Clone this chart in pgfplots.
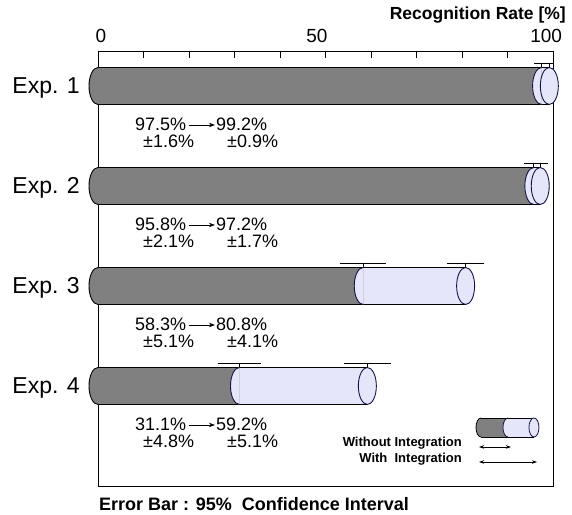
\documentclass[border=0pt]{standalone}
\usepackage{fontspec}
\setmainfont{Liberation Sans}
\usepackage{pgfplots}
\pgfplotsset{compat=1.18}
\usepackage{pgfplotstable}
\usetikzlibrary{arrows.meta}

\definecolor{cgray}{RGB}{128,128,128}
\definecolor{clav}{RGB}{230,230,250}
\definecolor{cnavy}{RGB}{20,20,70}

\pgfdeclareplotmark{cylfull}{%
  \pgfpathellipse{\pgfpointorigin}{\pgfqpoint{9pt}{0pt}}{\pgfqpoint{0pt}{18.5pt}}%
  \pgfusepathqfillstroke}
\pgfdeclareplotmark{cylleft}{%
  \pgfpathmoveto{\pgfqpoint{0pt}{18.5pt}}%
  \pgfpatharc{90}{270}{9pt and 18.5pt}%
  \pgfpathclose
  \pgfusepathqfill
  \pgfpathmoveto{\pgfqpoint{0pt}{18.5pt}}%
  \pgfpatharc{90}{270}{9pt and 18.5pt}%
  \pgfusepathqstroke}

\pgfplotstableread{
y   v1   e1  v2   e2  z tk
400 97.5 1.6 99.2 0.9 0 4.5
300 95.8 2.1 97.2 1.7 0 4.5
200 58.3 5.1 80.8 4.1 0 4.5
100 31.1 4.8 59.2 5.1 0 4.5
}\data

\newcommand{\vallab}[7]{% #1 line1 y, #2 arrow y, #3 line2 y, #4 v1, #5 v2, #6 e1, #7 e2
  \node[anchor=base west, inner sep=0pt, font=\fontsize{18}{20}\selectfont] at (axis cs:8.13,#1) {#4\%};
  \draw[-{Stealth[length=6pt,width=4.5pt]}, line width=0.7pt] (axis cs:20.0,#2) -- (axis cs:25.7,#2);
  \node[anchor=base west, inner sep=0pt, font=\fontsize{18}{20}\selectfont] at (axis cs:25.93,#1) {#5\%};
  \node[anchor=base west, inner sep=0pt, font=\fontsize{18}{20}\selectfont] at (axis cs:9.89,#3) {±#6\%};
  \node[anchor=base west, inner sep=0pt, font=\fontsize{18}{20}\selectfont] at (axis cs:28.35,#3) {±#7\%};
}

\pgfplotsset{
  errline/.style={draw=none, mark=none, forget plot,
    error bars/error mark=none,
    error bars/error bar style={draw=black, solid, line width=#1}},
}

\begin{document}
\begin{tikzpicture}
\begin{axis}[
  width=455pt, height=435pt, scale only axis,
  xmin=0, xmax=100, ymin=0, ymax=435,
  clip=false,
  xtick={0,10,...,100}, xticklabels={},
  xtick pos=right, ytick=\empty,
  tick align=inside, major tick length=7pt,
  axis line style={line width=0.9pt},
  tick style={black, line width=0.8pt},
]
% bodies
\addplot[xbar, bar shift=0pt, bar width=37, fill=clav, draw=none] table[x=v2,y=y]{\data};
\addplot[xbar, bar shift=0pt, bar width=37, fill=cgray, draw=none] table[x=v1,y=y]{\data};
% left caps
\addplot[only marks, mark=cylleft, mark options={fill=cgray, draw=black, line width=0.9pt}] table[x=z,y=y]{\data};
\addplot[only marks, mark=cylleft, mark options={fill=clav, draw=cnavy, line width=0.9pt}] table[x=v1,y=y]{\data};
% top and bottom outlines
\addplot[errline=0.9pt, error bars/x dir=minus, error bars/x explicit]
  table[x=v2, y expr=\thisrow{y}+18.5, x error=v2]{\data};
\addplot[errline=0.9pt, error bars/x dir=minus, error bars/x explicit]
  table[x=v2, y expr=\thisrow{y}-18.5, x error=v2]{\data};
% right caps
\addplot[only marks, mark=cylfull, mark options={fill=clav, draw=cnavy, line width=0.9pt}] table[x=v2,y=y]{\data};
% confidence bars
\addplot[errline=0.8pt, error bars/x dir=both, error bars/x explicit, error bars/y dir=minus, error bars/y explicit]
  table[x=v1, y expr=\thisrow{y}+23, x error=e1, y error=tk]{\data};
\addplot[errline=0.8pt, error bars/x dir=both, error bars/x explicit, error bars/y dir=minus, error bars/y explicit]
  table[x=v2, y expr=\thisrow{y}+23, x error=e2, y error=tk]{\data};

% category labels
\foreach \yy/\nn in {392/1,292/2,192/3,92/4}{
  \edef\tmp{\noexpand\node[anchor=base east, inner sep=0pt, font=\noexpand\fontsize{23}{26}\noexpand\selectfont] at (axis cs:-3.96,\yy) {Exp. \nn};}\tmp
}
% value labels
\vallab{355}{361}{338}{97.5}{99.2}{1.6}{0.9}
\vallab{255}{261}{238}{95.8}{97.2}{2.1}{1.7}
\vallab{155}{161}{138}{58.3}{80.8}{5.1}{4.1}
\vallab{55}{61}{38}{31.1}{59.2}{4.8}{5.1}

% tick labels and titles
\node[anchor=base, inner sep=0pt, font=\fontsize{19}{21}\selectfont] at (axis cs:0.66,443) {0};
\node[anchor=base, inner sep=0pt, font=\fontsize{19}{21}\selectfont] at (axis cs:48.1,443) {50};
\node[anchor=base, inner sep=0pt, font=\fontsize{19}{21}\selectfont] at (axis cs:98.5,443) {100};
\node[anchor=base east, inner sep=0pt, font=\fontsize{17.5}{20}\selectfont\bfseries] at (axis cs:102.86,466) {Recognition Rate [\%]};
\node[anchor=base west, inner sep=0pt, font=\fontsize{18}{20}\selectfont\bfseries] at (axis cs:0.22,-25) {Error Bar : 95\%\ \ Confidence Interval};

% legend
\node[anchor=base east, inner sep=0pt, font=\fontsize{13}{15}\selectfont\bfseries] at (axis cs:80.0,39) {Without Integration};
\node[anchor=base east, inner sep=0pt, font=\fontsize{13}{15}\selectfont\bfseries] at (axis cs:80.0,23) {With\ \ Integration};
\fill[clav] (axis cs:84.18,49) rectangle (axis cs:95.82,68);
\fill[cgray] (axis cs:84.18,49) rectangle (axis cs:90.11,68);
\filldraw[fill=cgray, draw=black, line width=0.8pt] (axis cs:84.18,68) arc[start angle=90, end angle=270, x radius=5pt, y radius=9.5pt];
\filldraw[fill=clav, draw=cnavy, line width=0.8pt] (axis cs:90.11,68) arc[start angle=90, end angle=270, x radius=5pt, y radius=9.5pt];
\draw[line width=0.8pt] (axis cs:84.18,68) -- (axis cs:95.82,68) (axis cs:84.18,49) -- (axis cs:95.82,49);
\filldraw[fill=clav, draw=cnavy, line width=0.8pt] (axis cs:95.82,58.5) ellipse [x radius=5pt, y radius=9.5pt];
\draw[{Stealth[length=5pt,width=3.5pt]}-{Stealth[length=5pt,width=3.5pt]}, line width=0.7pt] (axis cs:83.74,39) -- (axis cs:90.77,39);
\draw[{Stealth[length=5pt,width=3.5pt]}-{Stealth[length=5pt,width=3.5pt]}, line width=0.7pt] (axis cs:83.74,24) -- (axis cs:96.5,24);

\coordinate (bbsw) at (axis cs:-21.54,-29);
\coordinate (bbne) at (axis cs:104.18,486);
\end{axis}
\pgfresetboundingbox
\useasboundingbox (bbsw) rectangle (bbne);
\end{tikzpicture}
\end{document}
